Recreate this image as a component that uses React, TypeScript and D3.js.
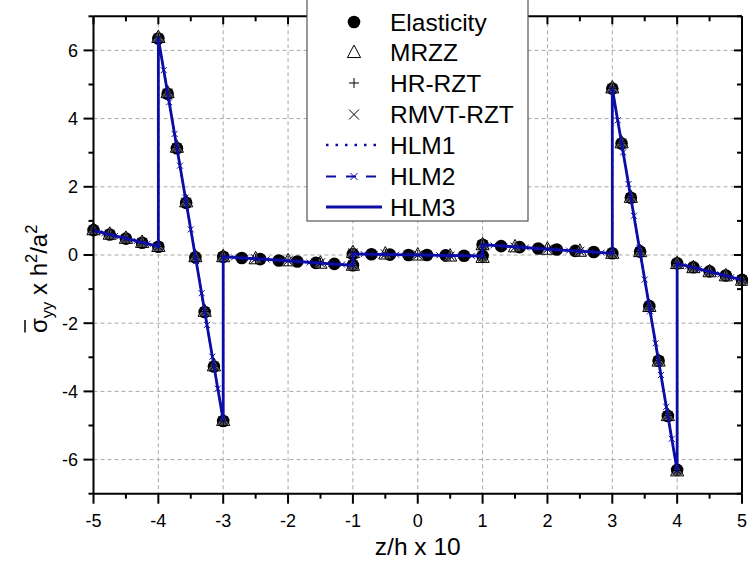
import React from "react";
import * as d3 from "d3";

// ---------- data ----------
const xMajorTicks = [-5, -4, -3, -2, -1, 0, 1, 2, 3, 4, 5];
const xMinorTicks = [-4.5, -3.5, -2.5, -1.5, -0.5, 0.5, 1.5, 2.5, 3.5, 4.5];
const yMajorTicks = [-6, -4, -2, 0, 2, 4, 6];
const yMinorTicks = [-7, -5, -3, -1, 1, 3, 5, 7];

const elasZ = [
  -5, -4.75, -4.5, -4.25, -4,
  -4, -3.857, -3.714, -3.571, -3.429, -3.286, -3.143, -3,
  -3, -2.714, -2.429, -2.143, -1.857, -1.571, -1.286, -1,
  -1, -0.714, -0.429, -0.143, 0.143, 0.429, 0.714, 1,
  1, 1.286, 1.571, 1.857, 2.143, 2.429, 2.714, 3,
  3, 3.143, 3.286, 3.429, 3.571, 3.714, 3.857, 4,
  4, 4.25, 4.5, 4.75, 5,
];
const elasVals = [
  0.73, 0.6, 0.48, 0.36, 0.24,
  6.35, 4.73, 3.13, 1.53, -0.07, -1.67, -3.27, -4.87,
  -0.05, -0.09, -0.12, -0.16, -0.19, -0.23, -0.26, -0.3,
  0.03, 0.02, 0.01, 0.0, 0.0, -0.01, -0.02, -0.03,
  0.3, 0.26, 0.23, 0.19, 0.16, 0.12, 0.09, 0.05,
  4.88, 3.27, 1.68, 0.1, -1.5, -3.1, -4.72, -6.3,
  -0.24, -0.36, -0.48, -0.6, -0.73,
];

const modelZ = [
  -5, -4.75, -4.5, -4.25, -4,
  -4, -3.857, -3.714, -3.571, -3.429, -3.286, -3.143, -3,
  -3, -2.5, -2, -1.5, -1,
  -1, -0.5, 0, 0.5, 1,
  1, 1.5, 2, 2.5, 3,
  3, 3.143, 3.286, 3.429, 3.571, 3.714, 3.857, 4,
  4, 4.25, 4.5, 4.75, 5,
];
const mrzzVals = [
  0.74, 0.61, 0.49, 0.37, 0.25,
  6.38, 4.76, 3.16, 1.56, -0.05, -1.65, -3.25, -4.85,
  -0.05, -0.11, -0.17, -0.24, -0.3,
  0.07, 0.03, 0.0, -0.03, -0.07,
  0.3, 0.24, 0.17, 0.11, 0.05,
  4.9, 3.29, 1.69, 0.1, -1.51, -3.11, -4.71, -6.33,
  -0.25, -0.37, -0.49, -0.61, -0.74,
];
const hrVals = [
  0.73, 0.61, 0.48, 0.37, 0.25,
  6.37, 4.75, 3.15, 1.55, -0.06, -1.66, -3.26, -4.86,
  -0.05, -0.11, -0.17, -0.23, -0.3,
  0.06, 0.03, 0.0, -0.03, -0.06,
  0.3, 0.23, 0.17, 0.11, 0.05,
  4.89, 3.28, 1.68, 0.1, -1.5, -3.1, -4.71, -6.32,
  -0.25, -0.37, -0.49, -0.61, -0.73,
];
const rmvtVals = [
  0.73, 0.61, 0.48, 0.37, 0.25,
  6.36, 4.75, 3.15, 1.55, -0.06, -1.66, -3.26, -4.86,
  -0.05, -0.11, -0.17, -0.23, -0.29,
  0.06, 0.03, 0.0, -0.03, -0.06,
  0.29, 0.23, 0.17, 0.11, 0.05,
  4.89, 3.28, 1.68, 0.1, -1.5, -3.1, -4.71, -6.32,
  -0.25, -0.37, -0.49, -0.61, -0.73,
];

const hlmZ = [
  -5, -4.833, -4.667, -4.5, -4.333, -4.167, -4,
  -4, -3.917, -3.833, -3.75, -3.667, -3.583, -3.5, -3.417, -3.333, -3.25, -3.167, -3.083, -3,
  -3, -2.833, -2.667, -2.5, -2.333, -2.167, -2, -1.833, -1.667, -1.5, -1.333, -1.167, -1,
  -1, -0.833, -0.667, -0.5, -0.333, -0.167, 0, 0.167, 0.333, 0.5, 0.667, 0.833, 1,
  1, 1.167, 1.333, 1.5, 1.667, 1.833, 2, 2.167, 2.333, 2.5, 2.667, 2.833, 3,
  3, 3.083, 3.167, 3.25, 3.333, 3.417, 3.5, 3.583, 3.667, 3.75, 3.833, 3.917, 4,
  4, 4.167, 4.333, 4.5, 4.667, 4.833, 5,
];
const hlm2Vals = [
  0.72, 0.64, 0.56, 0.49, 0.41, 0.33, 0.25,
  6.35, 5.42, 4.48, 3.55, 2.62, 1.68, 0.75, -0.18, -1.12, -2.05, -2.98, -3.92, -4.85,
  -0.05, -0.07, -0.09, -0.11, -0.13, -0.15, -0.17, -0.19, -0.22, -0.24, -0.26, -0.28, -0.3,
  0.03, 0.025, 0.02, 0.015, 0.01, 0.005, 0, -0.005, -0.01, -0.015, -0.02, -0.025, -0.03,
  0.3, 0.28, 0.26, 0.24, 0.22, 0.19, 0.17, 0.15, 0.13, 0.11, 0.09, 0.07, 0.05,
  4.88, 3.95, 3.01, 2.08, 1.15, 0.21, -0.72, -1.65, -2.59, -3.52, -4.45, -5.39, -6.32,
  -0.25, -0.33, -0.41, -0.49, -0.57, -0.65, -0.73,
];
const hlm1Vals = hlm2Vals;
const hlm3Vals = hlm2Vals;

const legendLabels = ["Elasticity", "MRZZ", "HR-RZT", "RMVT-RZT", "HLM1", "HLM2", "HLM3"];

// ---------- drawing ----------
const W = 748;
const H = 567;
const FONT = "'Liberation Sans', Arial, Helvetica, sans-serif";
const BLUE = "#0c0ca6";

const x = d3.scaleLinear().domain([-5, 5]).range([93.5, 742]);
const y = d3.scaleLinear().domain([-7, 7]).range([493.7, 16.3]);

const triPath = (cx: number, cy: number, s: number) =>
  `M${cx},${cy - s * 0.62}L${cx + s * 0.55},${cy + s * 0.42}L${cx - s * 0.55},${cy + s * 0.42}Z`;
const plusPath = (cx: number, cy: number, s: number) =>
  `M${cx - s},${cy}H${cx + s}M${cx},${cy - s}V${cy + s}`;
const crossPath = (cx: number, cy: number, s: number) =>
  `M${cx - s},${cy - s}L${cx + s},${cy + s}M${cx - s},${cy + s}L${cx + s},${cy - s}`;

export default function App() {
  const [x0, x1] = x.range();
  const [yb, yt] = y.range();
  const line = d3
    .line<number>()
    .x((_, i) => x(hlmZ[i]))
    .y((v) => y(v));

  const legX = 307;
  const legSym = 354;
  const legText = 390;
  const legRows = [22, 52.5, 83, 114.5, 145, 176.5, 207];

  return (
    <svg
      width={W}
      height={H}
      style={{ position: "absolute", left: 0, top: 0, background: "#fff" }}
      fontFamily={FONT}
    >
      <rect x={0} y={0} width={W} height={H} fill="#fff" />
      {/* grid */}
      <g stroke="#a8a8a8" strokeWidth={1} strokeDasharray="4,3">
        {xMajorTicks.slice(1, -1).map((t) => (
          <line key={"gx" + t} x1={x(t)} x2={x(t)} y1={yt} y2={yb} />
        ))}
        {yMajorTicks.map((t) => (
          <line key={"gy" + t} x1={x0} x2={x1} y1={y(t)} y2={y(t)} />
        ))}
      </g>

      {/* markers */}
      <g fill="#000">
        {elasZ.map((z, i) => (
          <circle key={"e" + i} cx={x(z)} cy={y(elasVals[i])} r={6.3} />
        ))}
      </g>
      <g fill="none" stroke="#000" strokeWidth={1}>
        {modelZ.map((z, i) => (
          <path key={"m" + i} d={triPath(x(z), y(mrzzVals[i]), 12)} fill="#fff" fillOpacity={0.35} />
        ))}
        {modelZ.map((z, i) => (
          <path key={"h" + i} d={plusPath(x(z), y(hrVals[i]), 5)} />
        ))}
        {modelZ.map((z, i) => (
          <path key={"r" + i} d={crossPath(x(z), y(rmvtVals[i]), 4.5)} />
        ))}
      </g>

      {/* HLM lines */}
      <path d={line(hlm1Vals) || ""} fill="none" stroke={BLUE} strokeWidth={2} strokeDasharray="2,5" />
      <path d={line(hlm2Vals) || ""} fill="none" stroke={BLUE} strokeWidth={1.5} strokeDasharray="8,5" />
      <g stroke={BLUE} strokeWidth={1} fill="none">
        {hlmZ.map((z, i) => (
          <path key={"x2" + i} d={crossPath(x(z), y(hlm2Vals[i]), 3)} />
        ))}
      </g>
      <path d={line(hlm3Vals) || ""} fill="none" stroke={BLUE} strokeWidth={2.8} />

      {/* axes frame */}
      <g stroke="#000" strokeWidth={2} fill="none">
        <line x1={x0} x2={x1} y1={yb} y2={yb} />
        <line x1={x0} x2={x1} y1={yt} y2={yt} />
        <line x1={x0} x2={x0} y1={yt} y2={yb} />
        <line x1={x1} x2={x1} y1={yt} y2={yb} />
        {xMajorTicks.map((t) => (
          <g key={"xt" + t}>
            <line x1={x(t)} x2={x(t)} y1={yb} y2={yb + 10} />
            <line x1={x(t)} x2={x(t)} y1={yt} y2={yt + 8} />
          </g>
        ))}
        {xMinorTicks.map((t) => (
          <g key={"xm" + t}>
            <line x1={x(t)} x2={x(t)} y1={yb} y2={yb + 5} />
            <line x1={x(t)} x2={x(t)} y1={yt} y2={yt + 5} />
          </g>
        ))}
        {yMajorTicks.map((t) => (
          <g key={"yt" + t}>
            <line x1={x0 - 10} x2={x0} y1={y(t)} y2={y(t)} />
            <line x1={x1 - 8} x2={x1} y1={y(t)} y2={y(t)} />
          </g>
        ))}
        {yMinorTicks.map((t) => (
          <g key={"ym" + t}>
            <line x1={x0 - 5} x2={x0} y1={y(t)} y2={y(t)} />
            <line x1={x1 - 5} x2={x1} y1={y(t)} y2={y(t)} />
          </g>
        ))}
      </g>

      {/* tick labels */}
      <g fontSize={18} fill="#000">
        {xMajorTicks.map((t) => (
          <text key={"xl" + t} x={x(t)} y={527} textAnchor="middle">
            {String(t)}
          </text>
        ))}
        {yMajorTicks.map((t) => (
          <text key={"yl" + t} x={78} y={y(t)} dy="0.35em" textAnchor="end">
            {String(t)}
          </text>
        ))}
      </g>

      {/* axis titles */}
      <text x={(x0 + x1) / 2} y={555} fontSize={24.5} textAnchor="middle">
        z/h x 10
      </text>
      <g transform="translate(47,276) rotate(-90)">
        <text x={-57} y={0} fontSize={24} textAnchor="start">
          <tspan>σ</tspan>
          <tspan fontSize={16.5} dy={6}>yy</tspan>
          <tspan dy={-6}> x h</tspan>
          <tspan fontSize={16.5} dy={-10}>2</tspan>
          <tspan dy={10}>/a</tspan>
          <tspan fontSize={16.5} dy={-10}>2</tspan>
        </text>
        <line x1={-56.5} x2={-44} y1={-22} y2={-22} stroke="#000" strokeWidth={1.5} />
      </g>

      {/* legend */}
      <g>
        <rect x={legX} y={-3} width={221} height={224} fill="#fff" stroke="#555" strokeWidth={1.2} />
        <circle cx={legSym} cy={legRows[0]} r={6.3} fill="#000" />
        <path d={triPath(legSym, legRows[1], 12)} fill="#fff" stroke="#000" strokeWidth={1} />
        <path d={plusPath(legSym, legRows[2], 5)} stroke="#000" strokeWidth={1} />
        <path d={crossPath(legSym, legRows[3], 5)} stroke="#000" strokeWidth={1} />
        <line x1={326} x2={382} y1={legRows[4]} y2={legRows[4]} stroke={BLUE} strokeWidth={2.5} strokeDasharray="2.5,7" />
        <line x1={326} x2={382} y1={legRows[5]} y2={legRows[5]} stroke={BLUE} strokeWidth={2} strokeDasharray="10,10" />
        <path d={crossPath(legSym, legRows[5], 3.5)} stroke={BLUE} strokeWidth={1} />
        <line x1={326} x2={382} y1={legRows[6]} y2={legRows[6]} stroke={BLUE} strokeWidth={2.8} />
        {legendLabels.map((l, i) => (
          <text key={l} x={legText} y={legRows[i]} dy="0.36em" fontSize={24.5} fill="#000">
            {l}
          </text>
        ))}
      </g>
    </svg>
  );
}
